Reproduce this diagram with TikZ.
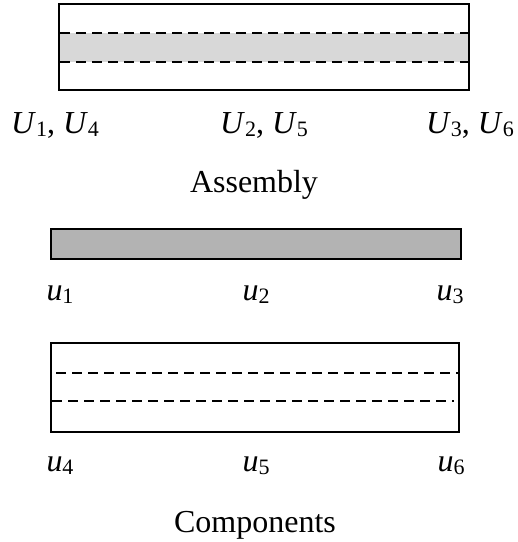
\documentclass[tikz,border=0pt]{standalone}
\usepackage{fontspec}
\setmainfont{Liberation Serif}
\usepackage{graphicx}
\newcommand{\sublab}[2]{\textit{#1}\raisebox{-0.22ex}{\fontsize{22}{25}\selectfont #2}}
\begin{document}
\begin{tikzpicture}[x=1pt,y=-1pt,
  outline/.style={draw=black,line width=2.6pt},
  dashline/.style={draw=black,line width=2.6pt,dash pattern=on 10pt off 6pt},
  lab/.style={anchor=base,inner sep=0pt,font=\fontsize{32}{36}\selectfont}]
\useasboundingbox (0,0) rectangle (518,542);
% Assembly
\fill[fill={rgb,255:red,216;green,216;blue,216}] (60,33) rectangle (468,62);
\draw[outline] (59,4) rectangle (469,90);
\coordinate (a1) at (60,33); \coordinate (a2) at (468,33);
\coordinate (a3) at (60,62); \coordinate (a4) at (468,62);
\draw[dashline] (a1) -- (a2);
\draw[dashline] (a3) -- (a4);
\node[lab,anchor=base west] (U14) at (11,133) {\sublab{U}{1}, \sublab{U}{4}};
\node[lab] (U25) at (264,133) {\sublab{U}{2}, \sublab{U}{5}};
\node[lab,anchor=base east] (U36) at (514,133) {\sublab{U}{3}, \sublab{U}{6}};
\node[lab] (asm) at (254,192) {Assembly};
% Bar
\draw[outline,fill={rgb,255:red,179;green,179;blue,179}] (51,229) rectangle (461,259);
\node[lab] (u1) at (60,300) {\sublab{u}{1}};
\node[lab] (u2) at (256,300) {\sublab{u}{2}};
\node[lab] (u3) at (450,300) {\sublab{u}{3}};
% Components box
\draw[outline] (51,343) rectangle (459,432);
\coordinate (b1) at (56,373); \coordinate (b2) at (459,373);
\coordinate (b3) at (52,401); \coordinate (b4) at (454,401);
\draw[dashline] (b1) -- (b2);
\draw[dashline] (b3) -- (b4);
\node[lab] (u4) at (60,471) {\sublab{u}{4}};
\node[lab] (u5) at (256,471) {\sublab{u}{5}};
\node[lab] (u6) at (451,471) {\sublab{u}{6}};
\node[lab] (cmp) at (255,532) {Components};
\end{tikzpicture}
\end{document}
